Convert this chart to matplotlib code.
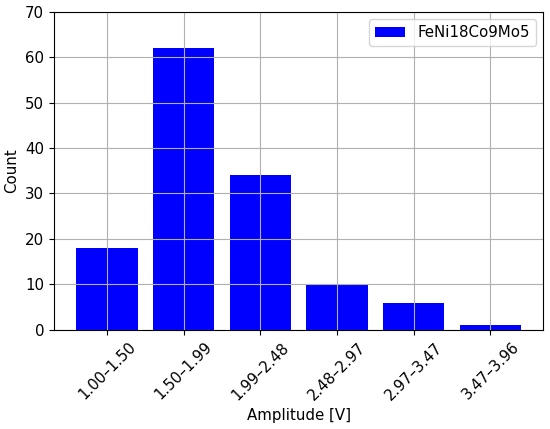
import matplotlib.pyplot as plt

# Dữ liệu
bins = ['1.00–1.50', '1.50–1.99', '1.99–2.48', '2.48–2.97', '2.97–3.47', '3.47–3.96']
counts = [18, 62, 34, 10, 6, 1]

plt.rcParams['font.size'] = 10.8

fig, ax = plt.subplots(figsize=(5.5, 4.29), dpi=100)

ax.bar(range(len(bins)), counts, color='blue', label='FeNi18Co9Mo5')

ax.set_xticks(range(len(bins)))
ax.set_xticklabels(bins, rotation=45)
ax.set_xlabel('Amplitude [V]')
ax.set_ylabel('Count')
ax.set_ylim(0, 70)
ax.grid(True)
ax.legend(loc='upper right')

plt.subplots_adjust(left=0.098, right=0.988, top=0.973, bottom=0.231)
plt.savefig('out.png')
